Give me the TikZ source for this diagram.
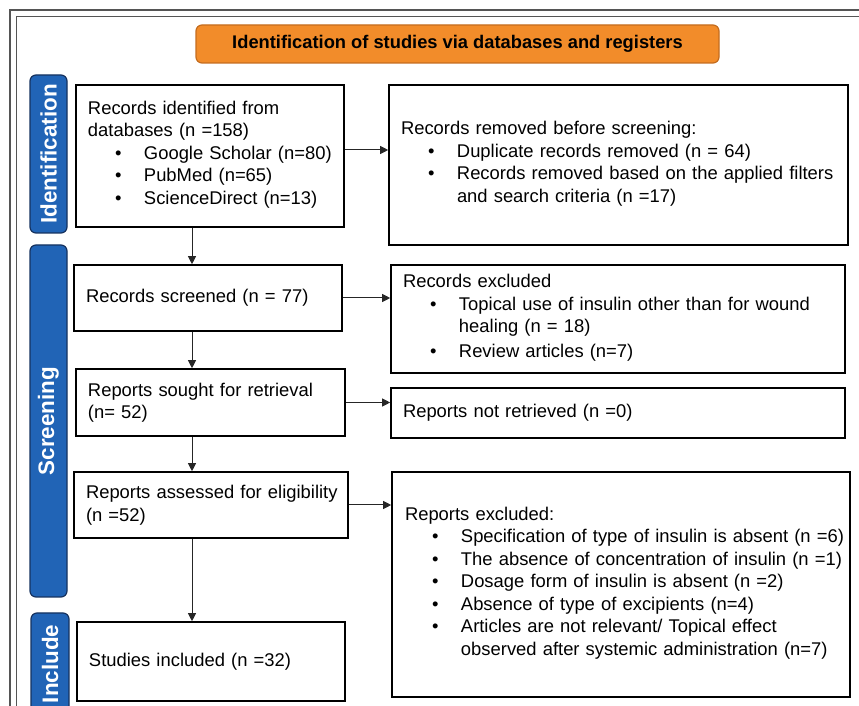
\documentclass[tikz,border=0pt]{standalone}
\usepackage{fontspec}
\setmainfont{Liberation Sans}
\usetikzlibrary{arrows.meta,calc}
\definecolor{orangefill}{RGB}{242,140,42}
\definecolor{orangeline}{RGB}{196,108,30}
\definecolor{bluefill}{RGB}{33,100,182}
\definecolor{blueline}{RGB}{22,50,95}
\definecolor{frameline}{RGB}{85,85,85}
\newcommand{\myitem}[1]{\par\noindent\hspace*{13.5pt}\makebox[14.5pt][l]{\textbullet}\begin{tabular}[t]{@{}l@{}}#1\end{tabular}}
\tikzset{
  box/.style={draw=black, line width=0.8pt, fill=white, align=left, inner xsep=6pt, inner ysep=0pt,
    font=\fontsize{9.2}{11.25}\selectfont},
  phase/.style={draw=blueline, line width=0.6pt, fill=bluefill, rounded corners=3pt, text=white,
    font=\fontsize{11.2}{13}\selectfont\bfseries, rotate=90, inner sep=0pt},
  arr/.style={-{Triangle[length=4pt,width=4pt]}, line width=0.5pt, draw=black!85},
}
\begin{document}
\begin{tikzpicture}[x=0.5pt,y=-0.5pt]
\useasboundingbox (0,0) rectangle (859,706);
\clip (0,0) rectangle (859,706);
% frame
\draw[frameline, line width=0.75pt] (10,10) rectangle (880,730);
\draw[frameline, line width=0.75pt] (16.5,16.5) rectangle (872,722);
% title
\node[draw=orangeline, line width=0.6pt, fill=orangefill, rounded corners=3pt, minimum width=261.5pt,
  minimum height=19pt, inner sep=0pt, font=\fontsize{9.15}{11}\selectfont\bfseries] (T) at (457.5,44)
  {Identification of studies via databases and registers};
% phase labels
\node[phase, minimum width=79pt, minimum height=18.5pt] (P1) at (48.5,154) {Identification};
\node[phase, minimum width=176pt, minimum height=18.5pt] (P2) at (48.5,421) {Screening};
\node[phase, minimum width=51pt, minimum height=19pt] (P3) at (50,664) {Include};
% left boxes
\node[box, minimum width=134pt, text width=122pt, minimum height=71pt] (B1) at (210,156)
  {Records identified from\\databases (n =158)%
   \myitem{Google Scholar (n=80)}\myitem{PubMed (n=65)}\myitem{ScienceDirect (n=13)}};
\node[box, minimum width=134pt, text width=122pt, minimum height=33pt] (B2) at (208,298)
  {Records screened (n = 77)};
\node[box, minimum width=134.5pt, text width=122.5pt, minimum height=33.5pt] (B3) at (210.5,402.5)
  {Reports sought for retrieval\\(n= 52)};
\node[box, minimum width=137pt, text width=125pt, minimum height=33pt] (B4) at (211,505)
  {\mbox{Reports assessed for eligibility}\\(n =52)};
\node[box, minimum width=134pt, text width=122pt, minimum height=39.5pt] (B5) at (211,661.5)
  {Studies included (n =32)};
% right boxes
\node[box, minimum width=229.5pt, text width=217.5pt, minimum height=80pt] (R1) at (618.5,165)
  {Records removed before screening:%
   \myitem{Duplicate records removed (n = 64)}%
   \myitem{Records removed based on the applied filters\\and search criteria (n =17)}};
\node[box, minimum width=227pt, text width=215pt, minimum height=54pt] (R2) at (618,319)
  {Records excluded%
   \myitem{Topical use of insulin other than for wound\\healing (n = 18)}%
   \myitem{Review articles (n=7)}};
\node[box, minimum width=227pt, text width=215pt, minimum height=25pt] (R3) at (618,413)
  {Reports not retrieved (n =0)};
\node[box, minimum width=229pt, text width=216pt, inner xsep=6.5pt, minimum height=112.5pt] (R4) at (621,584.5)
  {Reports excluded:%
   \myitem{Specification of type of insulin is absent (n =6)}%
   \myitem{The absence of concentration of insulin (n =1)}%
   \myitem{Dosage form of insulin is absent (n =2)}%
   \myitem{Absence of type of excipients (n=4)}%
   \myitem{Articles are not relevant/ Topical effect\\observed after systemic administration (n=7)}};
% connectors
\coordinate (col) at (192,0);
\draw[arr] (B1.south -| col) -- (B2.north -| col);
\draw[arr] (B2.south -| col) -- (B3.north -| col);
\draw[arr] (B3.south -| col) -- (B4.north -| col);
\draw[arr] (B4.south -| col) -- (B5.north -| col);
\draw[arr] ([yshift=3pt]B1.east) coordinate (a1) -- (a1 -| R1.west);
\draw[arr] (B2.east) -- (B2.east -| R2.west);
\draw[arr] (B3.east) -- (B3.east -| R3.west);
\draw[arr] (B4.east) -- (B4.east -| R4.west);
\end{tikzpicture}
\end{document}
